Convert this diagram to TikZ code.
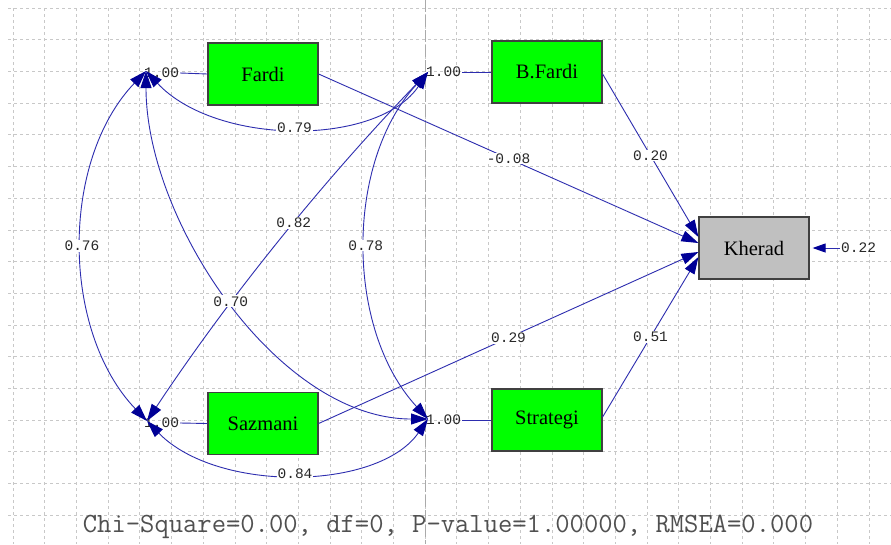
\documentclass[tikz,border=0pt]{standalone}
\usepackage{fontspec}
\setmainfont{Liberation Serif}
\newfontfamily\monof{Liberation Mono}
\usetikzlibrary{arrows.meta}
\definecolor{lnblue}{RGB}{45,45,175}
\definecolor{tipblue}{RGB}{0,0,150}
\definecolor{gridc}{RGB}{200,200,200}
\definecolor{midc}{RGB}{170,170,170}
\definecolor{labc}{RGB}{40,40,40}
\definecolor{fitc}{RGB}{80,80,80}
\definecolor{boxgreen}{RGB}{0,255,0}
\definecolor{boxgray}{RGB}{192,192,192}
\begin{document}
\begin{tikzpicture}[x=1pt,y=-1pt,
  box/.style={draw=black!75, line width=1.2pt, minimum width=110pt, minimum height=62pt, inner sep=0pt, font=\fontsize{20.5}{21}\selectfont},
  lab/.style={font=\monof\fontsize{14.5}{15}\selectfont, text=labc, inner sep=1pt},
  wlab/.style={lab, fill=white},
  gridline/.style={gridc, dash pattern=on 3pt off 3pt, line width=0.8pt},
  varline/.style={draw=lnblue, line width=0.9pt},
  path/.style={draw=lnblue, line width=0.9pt, -{Triangle[length=17pt,width=11pt,color=tipblue]}},
  cov/.style={draw=lnblue, line width=0.9pt, {Triangle[length=17pt,width=11pt,color=tipblue]}-{Triangle[length=17pt,width=11pt,color=tipblue]}}
]
\useasboundingbox (0,0) rectangle (891,544);
\fill[white] (0,0) rectangle (891,544);
% grid
\foreach \i in {0,...,27} \draw[gridline] ({13+31.7*\i},8) -- ({13+31.7*\i},544);
\foreach \j in {0,...,16} \draw[gridline] (8,{8+31.7*\j}) -- (891,{8+31.7*\j});
\draw[midc, dash pattern=on 12pt off 3pt, line width=1pt] (425,0) -- (425,544);

% boxes
\node[box, fill=boxgreen] (fardi) at (263,74) {Fardi};
\node[box, fill=boxgreen] (bfardi) at (547,72) {B.Fardi};
\node[box, fill=boxgray] (kherad) at (754,248) {Kherad};
\node[box, fill=boxgreen] (sazmani) at (263,423.5) {Sazmani};
\node[box, fill=boxgreen] (strategi) at (547,420) {Strategi};

% variance labels
\node[lab, anchor=west] (vf) at (143,73) {1.00};
\node[lab, anchor=west] (vbf) at (425,72) {1.00};
\node[lab, anchor=west] (vsz) at (143,423) {1.00};
\node[lab, anchor=west] (vst) at (425,420) {1.00};
\node[lab, anchor=west] (v22) at (840,248) {0.22};
\draw[varline] (vf.east) -- (fardi.west);
\draw[varline] (vbf.east) -- (bfardi.west);
\draw[varline] (vsz.east) -- (sazmani.west);
\draw[varline] (vst.east) -- (strategi.west);

\coordinate (tf) at (146,71);
\coordinate (tbf) at (428,72);
\coordinate (tsz) at (147,421);
\coordinate (tst) at (428,419);

% paths to Kherad
\draw[path] (fardi.east) -- node[wlab]{-0.08} ([yshift=5pt]kherad.west);
\draw[path] ([yshift=-2pt]bfardi.east) -- node[wlab]{0.20} ([yshift=11pt]kherad.west);
\draw[path] (sazmani.east) -- node[wlab]{0.29} ([yshift=-4pt]kherad.west);
\draw[path] ([yshift=3pt]strategi.east) -- node[wlab]{0.51} ([yshift=-9pt]kherad.west);
\draw[draw=lnblue, line width=0.9pt, -{Triangle[length=13pt,width=9pt,color=tipblue]}] (v22.west) -- ([xshift=3pt]kherad.east);

% covariances
\draw[cov] (tf) .. controls +(70,75) and +(-50,75) .. node[wlab]{0.79} (tbf);
\draw[cov] (tsz) .. controls +(70,72) and +(-50,72) .. node[wlab]{0.84} (tst);
\draw[cov] (tf) .. controls +(-86,90) and +(-86,-90) .. node[wlab]{0.76} (tsz);
\draw[cov] (tbf) .. controls +(-83,90) and +(-83,-90) .. node[wlab]{0.78} (tst);
\draw[cov] (tbf) .. controls +(-104,108) and +(83,-125) .. node[wlab,pos=0.45]{0.82} (tsz);
\draw[cov] (tf) .. controls +(0,150) and +(-150,0) .. node[wlab]{0.70} (tst);

% fit statistics
\node[font=\ttfamily\fontsize{27.8}{28}\selectfont, text=fitc] (fit) at (448,527) {Chi-Square=0.00, df=0, P-value=1.00000, RMSEA=0.000};
\end{tikzpicture}
\end{document}
